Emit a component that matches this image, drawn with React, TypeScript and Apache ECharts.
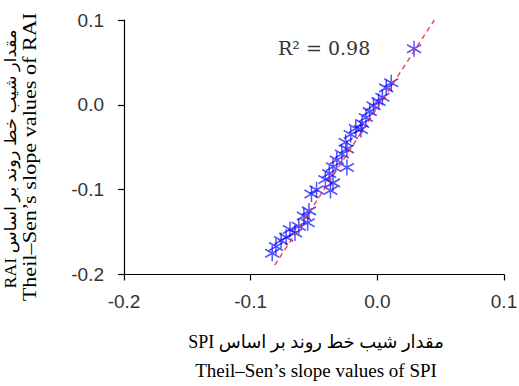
import React, { useEffect, useRef } from "react";
import * as echarts from "echarts";

const spiSlope = [
  0.029, 0.011, 0.007, 0.004, 0.001, -0.003, -0.006, -0.009, -0.012, -0.013,
  -0.017, -0.021, -0.025, -0.024, -0.028, -0.032, -0.024, -0.035, -0.038, -0.035,
  -0.041, -0.037, -0.048, -0.052, -0.054, -0.058, -0.055, -0.062, -0.065, -0.069,
  -0.072, -0.076, -0.08, -0.083,
];
const raiSlope = [
  0.066, 0.026, 0.02, 0.009, 0.004, -0.001, -0.008, -0.015, -0.022, -0.029,
  -0.028, -0.035, -0.044, -0.052, -0.058, -0.065, -0.074, -0.073, -0.081, -0.092,
  -0.088, -0.101, -0.1, -0.105, -0.125, -0.131, -0.139, -0.143, -0.151, -0.147,
  -0.156, -0.16, -0.167, -0.175,
];
const trendX = [-0.081, 0.045];
const trendY = [-0.189, 0.1];
const axisMin = -0.2;
const axisMax = 0.1;
const axisStep = 0.1;
const r2Label = "R² = 0.98";
const xNameFa = "SPI مقدار شیب خط روند بر اساس";
const xNameEn = "Theil–Sen’s slope values of SPI";
const yNameFa = "RAI مقدار شیب خط روند بر اساس";
const yNameEn = "Theil–Sen’s slope values of RAI";

const star = "path://M5,0L5,10M0.67,2.5L9.33,7.5M0.67,7.5L9.33,2.5";

const fmt = (v: number) => (Math.abs(v) < 1e-9 ? "0.0" : v.toFixed(1));

export default function App() {
  const ref = useRef<HTMLDivElement>(null);
  useEffect(() => {
    if (!ref.current) return;
    const chart = echarts.init(ref.current, null, { renderer: "svg" });
    const axisCommon = {
      type: "value" as const,
      min: axisMin,
      max: axisMax,
      interval: axisStep,
      splitLine: { show: false },
      axisLine: { show: true, onZero: false, lineStyle: { color: "#000", width: 1.2 } },
      axisTick: { show: true, inside: false, length: 6, lineStyle: { color: "#000", width: 1.2 } },
      axisLabel: {
        formatter: fmt,
        color: "#333",
        fontSize: 19,
        fontFamily: "Liberation Sans, Arial, sans-serif",
      },
    };
    chart.setOption({
      animation: false,
      grid: { left: 124, right: 15, top: 20, bottom: 111.5, containLabel: false, outerBoundsMode: "none" },
      xAxis: { ...axisCommon, axisLabel: { ...axisCommon.axisLabel, margin: 17 } },
      yAxis: { ...axisCommon, axisLabel: { ...axisCommon.axisLabel, margin: 20 } },
      series: [
        {
          type: "scatter",
          data: spiSlope.map((x, i) => [x, raiSlope[i]]),
          symbol: star,
          symbolSize: [14, 16],
          itemStyle: { color: "rgba(0,0,0,0)", borderColor: "rgba(0,0,255,0.85)", borderWidth: 1.6 },
          z: 2,
        },
        {
          type: "line",
          data: trendX.map((x, i) => [x, trendY[i]]),
          symbol: "none",
          lineStyle: { color: "rgba(240,40,40,0.85)", width: 1.5, type: [5, 4] },
          z: 3,
        },
      ],
      graphic: [
        {
          type: "text",
          left: 278,
          top: 38,
          style: { text: r2Label, fontSize: 19, fontFamily: "DejaVu Serif, serif", fill: "#333" },
        },
        {
          type: "text",
          x: 316,
          y: 342,
          style: {
            text: xNameFa,
            fontSize: 18,
            fontFamily: "Liberation Serif, DejaVu Sans, serif",
            fill: "#000",
            align: "center",
            verticalAlign: "middle",
          },
        },
        {
          type: "text",
          x: 316,
          y: 370,
          style: {
            text: xNameEn,
            fontSize: 19,
            fontFamily: "Liberation Serif, serif",
            fill: "#000",
            align: "center",
            verticalAlign: "middle",
          },
        },
        {
          type: "text",
          x: 11,
          y: 159,
          rotation: Math.PI / 2,
          scaleX: 1.12,
          style: {
            text: yNameFa,
            fontSize: 16,
            fontFamily: "Liberation Serif, DejaVu Sans, serif",
            fill: "#000",
            align: "center",
            verticalAlign: "middle",
          },
        },
        {
          type: "text",
          x: 29.5,
          y: 157,
          rotation: Math.PI / 2,
          scaleX: 1.17,
          style: {
            text: yNameEn,
            fontSize: 19,
            fontFamily: "Liberation Serif, serif",
            fill: "#000",
            align: "center",
            verticalAlign: "middle",
          },
        },
      ],
    });
    return () => chart.dispose();
  }, []);
  return (
    <div
      ref={ref}
      style={{ position: "fixed", left: 0, top: 0, width: 519, height: 386, background: "#fff" }}
    />
  );
}
